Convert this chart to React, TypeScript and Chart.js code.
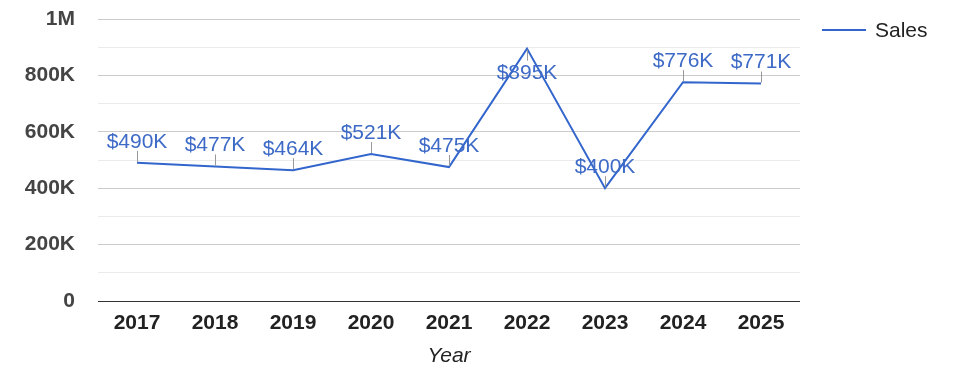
import React, { useEffect, useRef } from "react";
import { Chart, registerables } from "chart.js";

Chart.register(...registerables);

const years = ["2017", "2018", "2019", "2020", "2021", "2022", "2023", "2024", "2025"];
const sales = [490000, 477000, 464000, 521000, 475000, 895000, 400000, 776000, 771000];
const labelBelow = [false, false, false, false, false, true, false, false, false];
const seriesName = "Sales";
const axisTitle = "Year";

const FONT = 'Arial, "Liberation Sans", Helvetica, sans-serif';
const LINE = "#3366cc";

const fmtTick = (v: number) => {
  if (v % 200000 !== 0) return "";
  if (v === 0) return "0";
  if (v >= 1000000) return v / 1000000 + "M";
  return v / 1000 + "K";
};

const annotationPlugin = {
  id: "annotations",
  afterDatasetsDraw(chart: any) {
    const ctx = chart.ctx;
    const meta = chart.getDatasetMeta(0);
    ctx.save();
    meta.data.forEach((pt: any, i: number) => {
      const v = sales[i];
      const below = labelBelow[i];
      const dir = below ? 1 : -1;
      ctx.strokeStyle = "#999999";
      ctx.lineWidth = 1;
      ctx.beginPath();
      const x = Math.round(pt.x) + 0.5;
      ctx.moveTo(x, pt.y + dir * 1);
      ctx.lineTo(x, pt.y + dir * 12);
      ctx.stroke();
      ctx.fillStyle = "#3d6ac6";
      ctx.font = `21px ${FONT}`;
      ctx.textAlign = "center";
      ctx.textBaseline = "middle";
      ctx.fillText("$" + v / 1000 + "K", pt.x, pt.y + dir * 23 + 2);
    });
    ctx.restore();
  },
  afterDraw(chart: any) {
    const ctx = chart.ctx;
    ctx.save();
    ctx.strokeStyle = LINE;
    ctx.lineWidth = 2;
    ctx.beginPath();
    ctx.moveTo(822, 30);
    ctx.lineTo(866, 30);
    ctx.stroke();
    ctx.fillStyle = "#222222";
    ctx.font = `21px ${FONT}`;
    ctx.textAlign = "left";
    ctx.textBaseline = "middle";
    ctx.fillText(seriesName, 875, 31);
    ctx.restore();
  },
};

export default function App() {
  const ref = useRef<HTMLCanvasElement | null>(null);
  useEffect(() => {
    if (!ref.current) return;
    const chart = new Chart(ref.current, {
      type: "line",
      data: {
        labels: years,
        datasets: [
          {
            label: seriesName,
            data: sales,
            borderColor: LINE,
            backgroundColor: LINE,
            borderWidth: 2,
            pointRadius: 0,
            tension: 0,
          },
        ],
      },
      plugins: [annotationPlugin],
      options: {
        animation: false,
        responsive: false,
        devicePixelRatio: 1,
        layout: { padding: { top: 19, right: 175, left: 0, bottom: 0 } },
        plugins: { legend: { display: false }, tooltip: { enabled: false } },
        scales: {
          x: {
            offset: true,
            grid: { display: false, drawTicks: false },
            border: { display: false },
            ticks: {
              padding: 10,
              color: "#222222",
              font: { family: FONT, size: 21, weight: "bold" },
              maxRotation: 0,
              autoSkip: false,
            },
            title: {
              display: true,
              text: axisTitle,
              color: "#222222",
              font: { family: FONT, size: 21, style: "italic" },
              padding: { top: 0, bottom: 9 },
            },
            afterFit(scale: any) {
              scale.height = 77;
              scale.paddingLeft = 0;
              scale.paddingRight = 0;
            },
          },
          y: {
            min: 0,
            max: 1000000,
            grid: {
              drawTicks: false,
              color: (c: any) =>
                c.tick.value === 0 ? "#333333" : c.tick.value % 200000 === 0 ? "#cccccc" : "#ebebeb",
              lineWidth: 1,
            },
            border: { display: false },
            ticks: {
              stepSize: 100000,
              padding: 23,
              color: "#444444",
              font: { family: FONT, size: 21, weight: "bold" },
              callback: (v: any) => fmtTick(Number(v)),
              autoSkip: false,
            },
            afterFit(scale: any) {
              scale.width = 98;
              scale.paddingTop = 0;
              scale.paddingBottom = 0;
            },
          },
        },
      } as any,
    });
    return () => chart.destroy();
  }, []);
  return (
    <div style={{ position: "absolute", left: 0, top: 0, width: 975, height: 378, background: "#fff" }}>
      <canvas ref={ref} width={975} height={378} style={{ width: 975, height: 378 }} />
    </div>
  );
}
